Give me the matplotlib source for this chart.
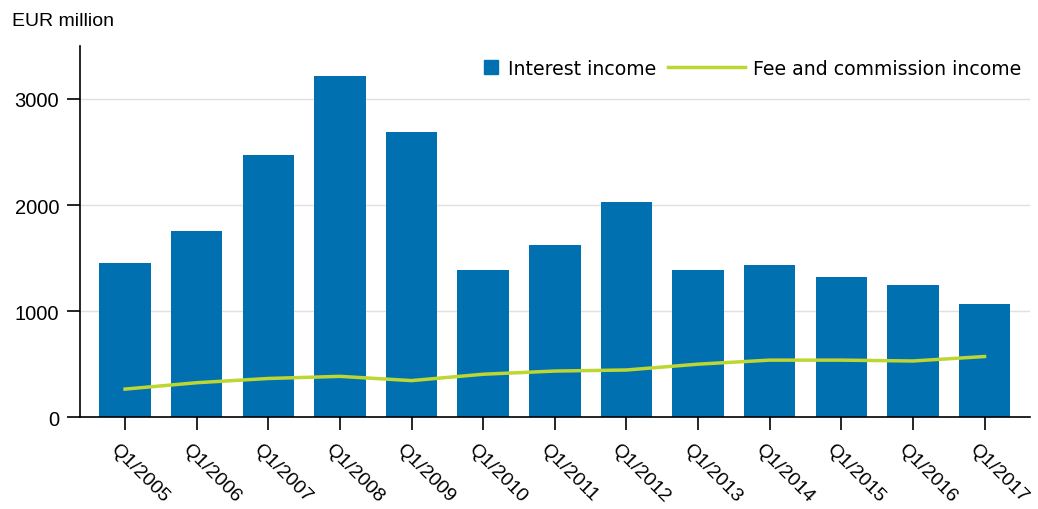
import matplotlib
matplotlib.use("Agg")
import matplotlib.pyplot as plt
import matplotlib.transforms as mtransforms
from matplotlib.lines import Line2D
import numpy as np

categories = ["Q1/2005", "Q1/2006", "Q1/2007", "Q1/2008", "Q1/2009", "Q1/2010", "Q1/2011",
              "Q1/2012", "Q1/2013", "Q1/2014", "Q1/2015", "Q1/2016", "Q1/2017"]
interest_income = [1455, 1755, 2470, 3215, 2690, 1390, 1625, 2030, 1390, 1435, 1320, 1245, 1065]
fee_income = [265, 325, 365, 385, 345, 405, 435, 445, 500, 538, 538, 530, 572]
yticks = [0, 1000, 2000, 3000]

bar_color = '#0070B0'
line_color = '#BDD632'

plt.rcParams['font.family'] = ['Liberation Sans', 'DejaVu Sans']

fig = plt.figure(figsize=(10.38, 5.10), dpi=100)
ax = fig.add_axes([0.077, 0.18, 0.915, 0.728])

x = np.arange(len(categories))
ax.bar(x, interest_income, width=0.72, color=bar_color, zorder=2)
ax.plot(x, fee_income, color=line_color, lw=2.5, zorder=3)

ax.set_xlim(-0.63, len(categories) - 1 + 0.63)
ax.set_ylim(0, 3500)
ax.set_yticks(yticks)
ax.set_yticklabels([str(v) for v in yticks], fontsize=14.5)
ax.set_xticks(x)
ax.set_xticklabels(categories, rotation=-45, ha='left', va='center', rotation_mode='anchor', fontsize=14)
ax.tick_params(axis='x', length=9, width=1.2, pad=12)
ax.tick_params(axis='y', length=9.5, width=1.2, pad=5.5)
offset = mtransforms.ScaledTranslation(-12 / 100, 0, fig.dpi_scale_trans)
for lab in ax.get_xticklabels():
    lab.set_transform(lab.get_transform() + offset)
ax.grid(axis='y', color='#e0e0e0', lw=1, zorder=0)
ax.set_axisbelow(True)
for s in ['top', 'right']:
    ax.spines[s].set_visible(False)
ax.spines['left'].set_linewidth(1.2)
ax.spines['bottom'].set_linewidth(1.2)

fig.text(0.012, 0.957, 'EUR million', fontsize=14, ha='left', va='center')

leg_prop = {'family': 'DejaVu Sans', 'size': 13.6}
h1 = Line2D([], [], marker='s', ls='none', color=bar_color, markersize=9.5)
h2 = Line2D([], [], color=line_color, lw=2.5)
leg2 = ax.legend([h2], ['Fee and commission income'], loc='center right',
                 bbox_to_anchor=(0.991, 0.94), frameon=False, prop=leg_prop,
                 handlelength=4.1, handletextpad=0.4, borderpad=0, borderaxespad=0)
ax.add_artist(leg2)
ax.legend([h1], ['Interest income'], loc='center right',
          bbox_to_anchor=(0.607, 0.94), frameon=False, prop=leg_prop,
          handlelength=0.7, handletextpad=0.55, borderpad=0, borderaxespad=0)

fig.savefig('out.png', dpi=100)
